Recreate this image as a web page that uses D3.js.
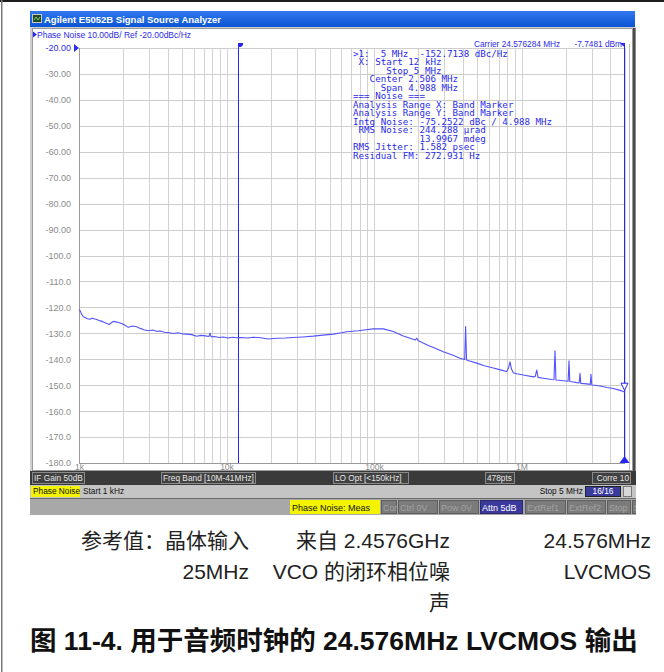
<!DOCTYPE html>
<html>
<head>
<meta charset="UTF-8">
<title>24.576MHz LVCMOS phase noise</title>
<script src="https://d3js.org/d3.v7.min.js"></script>
<style>
    body {
        margin: 0;
        background: #fff;
    }
    svg {
        display: block;
        font-family: "Liberation Sans", Arial, sans-serif;
    }
    .ui { font-size: 8.5px; }
    .bar { font-size: 8.3px; }
    .bar3 { font-size: 9px; }
    .mono {
        font-family: "DejaVu Sans Mono", monospace;
        font-size: 9.2px;
        fill: #2b2bea;
    }
    .cn {
        font-family: "Liberation Sans", "Noto Sans CJK SC", sans-serif;
        font-size: 21px;
        fill: #222;
    }
    .cap {
        font-family: "Liberation Sans", "Noto Sans CJK SC", sans-serif;
        font-size: 26.5px;
        font-weight: bold;
        fill: #111;
    }
</style>
</head>
<body>
<svg id="main" width="664" height="672"></svg>
<script>
    var offsetHz = [
        1000, 1016, 1040, 1069, 1100, 1140, 1187, 1230, 1280, 1318,
        1370, 1420, 1461, 1530, 1605, 1650, 1708, 1780, 1850, 1948,
        2050, 2159, 2300, 2462, 2600, 2750, 2950, 3150, 3350, 3541,
        3800, 4100, 4359, 4700, 5000, 5373, 5800, 6281, 6700, 7200,
        7600, 7730, 7850, 8300, 8900, 9513, 10200, 11000, 11730, 12600,
        13800, 15190, 17000, 19200, 22000, 25000, 28380, 33000, 38770, 45000,
        52990, 60000, 65300, 72000, 78260, 88000, 98900, 115600, 135100, 158000,
        180000, 190000, 195000, 200000, 227800, 260000, 295000, 340000, 383000, 412000,
        418000, 424000, 440000, 497000, 560000, 644000, 720000, 794000, 815000, 836000,
        855000, 880000, 928000, 1050000, 1202000, 1240000, 1268000, 1295000, 1400000, 1602000,
        1660000, 1687000, 1712000, 1800000, 1920000, 2070000, 2099000, 2125000, 2250000, 2367000,
        2460000, 2493000, 2525000, 2650000, 2767000, 2925000, 2960000, 2995000, 3150000, 3406000,
        3800000, 4193000, 4600000, 4900000, 5000000
    ];
    var noiseDb = [
        -121.0, -121.2, -122.6, -123.6, -123.9, -124.4, -124.6, -124.2, -124.5, -124.7,
        -125.1, -125.3, -125.6, -126.1, -126.6, -126.0, -125.4, -125.6, -125.8, -126.2,
        -126.9, -127.7, -127.2, -127.5, -128.1, -128.6, -129.0, -128.7, -129.2, -129.1,
        -129.6, -129.8, -130.1, -129.8, -130.2, -130.3, -130.5, -131.1, -130.8, -131.0,
        -131.2, -129.9, -131.3, -131.2, -131.6, -131.4, -131.8, -131.5, -131.7, -131.6,
        -131.8, -131.5, -131.7, -132.2, -131.9, -131.8, -131.6, -131.4, -131.1, -130.7,
        -130.3, -129.8, -129.4, -129.2, -129.0, -128.6, -128.3, -128.3, -129.3, -131.0,
        -132.1, -132.6, -131.9, -132.9, -134.4, -135.8, -137.1, -138.4, -139.6, -140.1,
        -127.4, -140.3, -140.6, -141.5, -142.5, -143.4, -144.1, -144.7, -143.5, -141.0,
        -143.8, -145.2, -145.6, -146.2, -146.8, -146.6, -144.2, -147.0, -147.3, -147.8,
        -147.9, -136.7, -148.0, -148.1, -148.3, -148.5, -140.6, -148.6, -148.8, -149.0,
        -149.1, -145.4, -149.3, -149.4, -149.5, -149.7, -145.8, -149.9, -150.0, -150.3,
        -150.9, -151.3, -151.9, -152.4, -152.7
    ];

    var yTicks = [-20, -30, -40, -50, -60, -70, -80, -90, -100, -110, -120, -130, -140, -150, -160, -170, -180];
    var yTickLabels = ["-20.00", "-30.00", "-40.00", "-50.00", "-60.00", "-70.00", "-80.00", "-90.00",
        "-100.0", "-110.0", "-120.0", "-130.0", "-140.0", "-150.0", "-160.0", "-170.0", "-180.0"];
    var xTickValues = [1e3, 1e4, 1e5, 1e6];
    var xTickLabels = ["1k", "10k", "100k", "1M"];
    var bandStart = 12e3;
    var bandStop = 5e6;

    var markerText = [
        ">1:  5 MHz  -152.7138 dBc/Hz",
        " X: Start 12 kHz",
        "      Stop 5 MHz",
        "   Center 2.506 MHz",
        "     Span 4.988 MHz",
        "=== Noise ===",
        "Analysis Range X: Band Marker",
        "Analysis Range Y: Band Marker",
        "Intg Noise: -75.2522 dBc / 4.988 MHz",
        " RMS Noise: 244.288 \u00b5rad",
        "            13.9967 mdeg",
        "RMS Jitter: 1.582 psec",
        "Residual FM: 272.931 Hz"
    ];

    var noteCols = [
        ["参考值：晶体输入", "25MHz"],
        ["来自 2.4576GHz", "VCO 的闭环相位噪", "声"],
        ["24.576MHz", "LVCMOS"]
    ];
    var caption = "图 11-4. 用于音频时钟的 24.576MHz LVCMOS 输出";

    var svg = d3.select("#main");
    var nb = function(s) { return s.replace(/ /g, "\u00a0"); };

    // page frame
    svg.append("rect").attr("x", 0).attr("y", 0).attr("width", 664).attr("height", 2).attr("fill", "#1e1e1e");
    svg.append("rect").attr("x", 1).attr("y", 0).attr("width", 1.5).attr("height", 672).attr("fill", "#7a7a7a");

    // analyzer window
    var grad = svg.append("defs").append("linearGradient").attr("id", "tb")
        .attr("x1", 0).attr("y1", 0).attr("x2", 0).attr("y2", 1);
    grad.append("stop").attr("offset", 0).attr("stop-color", "#3178ee");
    grad.append("stop").attr("offset", 1).attr("stop-color", "#0b55d4");

    svg.append("rect").attr("x", 30).attr("y", 27).attr("width", 606).attr("height", 488).attr("fill", "#cfcfcf");
    svg.append("rect").attr("x", 30).attr("y", 11).attr("width", 605).attr("height", 16).attr("fill", "url(#tb)");
    svg.append("rect").attr("x", 32.5).attr("y", 14.5).attr("width", 9).attr("height", 8)
        .attr("fill", "#1f4a22").attr("stroke", "#c8c8c8").attr("stroke-width", 1);
    svg.append("path").attr("d", "M34,20 L36,17 L38,20 L40,17").attr("fill", "none")
        .attr("stroke", "#9ef09e").attr("stroke-width", 0.8);
    svg.append("text").attr("x", 44).attr("y", 23).attr("fill", "#fff")
        .attr("font-weight", "bold").attr("font-size", "9.5px")
        .text("Agilent E5052B Signal Source Analyzer");

    svg.append("rect").attr("x", 32.5).attr("y", 28.5).attr("width", 600).attr("height", 442)
        .attr("fill", "#fff").attr("stroke", "#9a9a9a");
    svg.append("rect").attr("x", 633).attr("y", 28).attr("width", 2.5).attr("height", 443).attr("fill", "#4a4a4a");

    // scales
    var x = d3.scaleLog().domain([1e3, 5e6]).range([79, 624.6]);
    var y = d3.scaleLinear().domain([-20, -180]).range([48, 463]);

    var plot = svg.append("g");

    // grid
    plot.selectAll(".vg").data(x.ticks()).enter().append("line")
        .attr("x1", d => Math.round(x(d)) + 0.5).attr("x2", d => Math.round(x(d)) + 0.5)
        .attr("y1", 48).attr("y2", 463)
        .attr("stroke", "#d2d2d2").attr("stroke-width", 1);
    plot.selectAll(".hg").data(yTicks).enter().append("line")
        .attr("x1", 79).attr("x2", 625)
        .attr("y1", d => Math.round(y(d)) + 0.5).attr("y2", d => Math.round(y(d)) + 0.5)
        .attr("stroke", "#cdcdcd").attr("stroke-width", 1);
    plot.append("line").attr("x1", 79.5).attr("x2", 79.5).attr("y1", 48).attr("y2", 463.5)
        .attr("stroke", "#9a9a9a");
    plot.append("line").attr("x1", 79).attr("x2", 625).attr("y1", 463.5).attr("y2", 463.5)
        .attr("stroke", "#9a9a9a");
    plot.append("line").attr("x1", 629.5).attr("x2", 629.5).attr("y1", 44).attr("y2", 470)
        .attr("stroke", "#bdbdbd");

    // y axis labels
    var yAxis = d3.axisLeft(y).tickValues(yTicks)
        .tickFormat((d, i) => yTickLabels[i]).tickSize(0).tickPadding(0);
    var yg = plot.append("g").attr("transform", "translate(71,0)").call(yAxis);
    yg.select(".domain").remove();
    yg.selectAll("text").attr("font-family", "Liberation Sans, Arial, sans-serif")
        .attr("font-size", "9px").attr("fill", (d, i) => i == 0 ? "#2b2bea" : "#8c8c8c");
    plot.append("path").attr("d", "M74,44 L79,48 L74,52 Z").attr("fill", "#2b2bea");

    // x axis labels
    var xAxis = d3.axisBottom(x).tickValues(xTickValues)
        .tickFormat((d, i) => xTickLabels[i]).tickSize(0).tickPadding(0);
    var xg = plot.append("g").attr("transform", "translate(0,464)").call(xAxis);
    xg.select(".domain").remove();
    xg.selectAll("text").attr("font-family", "Liberation Sans, Arial, sans-serif")
        .attr("font-size", "8.5px").attr("fill", "#8c8c8c");

    // header texts
    svg.append("path").attr("d", "M33,31.5 L37,34.5 L33,37.5 Z").attr("fill", "#2b2bea");
    svg.append("text").attr("class", "ui").attr("x", 37).attr("y", 38).attr("fill", "#2b2bea")
        .text("Phase Noise 10.00dB/ Ref -20.00dBc/Hz");
    svg.append("text").attr("x", 474).attr("y", 47).attr("fill", "#2b2bea")
        .style("font-size", "8.3px").text("Carrier 24.576284 MHz");
    svg.append("text").attr("x", 622).attr("y", 47).attr("fill", "#2b2bea")
        .style("font-size", "8.3px").attr("text-anchor", "end").text("-7.7481 dBm");

    // marker readout
    svg.append("g").selectAll("text").data(markerText).enter().append("text")
        .attr("class", "mono").attr("x", 353).attr("y", (d, i) => 56.5 + i * 8.53)
        .text(d => nb(d));

    // band markers
    var bx = Math.round(x(bandStart)) + 0.5;
    var ex = Math.round(x(bandStop)) - 0.5;
    plot.append("line").attr("x1", bx).attr("x2", bx).attr("y1", 44).attr("y2", 463)
        .attr("stroke", "#2626f0").attr("stroke-width", 1);
    plot.append("path").attr("d", "M" + (bx - 0.5) + ",43 h5 v2 l-2,2 h-3 Z").attr("fill", "#2626f0");
    plot.append("line").attr("x1", ex).attr("x2", ex).attr("y1", 43).attr("y2", 463)
        .attr("stroke", "#2626f0").attr("stroke-width", 1);
    plot.append("path").attr("d", "M" + (ex - 5) + ",43 h5 v4 Z").attr("fill", "#2626f0");
    plot.append("path").attr("d", "M" + (ex - 5) + ",463 L" + ex + ",456 L" + (ex + 5) + ",463 Z")
        .attr("fill", "#2626f0");

    // trace
    var pts = d3.zip(offsetHz, noiseDb);
    var line = d3.line().x(d => x(d[0])).y(d => y(d[1]));
    plot.append("path").datum(pts).attr("d", line)
        .attr("fill", "none").attr("stroke", "#5252ff").attr("stroke-width", 1.1)
        .attr("stroke-linejoin", "round");

    // marker 1 at trace end
    var my = y(noiseDb[noiseDb.length - 1]);
    plot.append("path").attr("d", "M" + (ex - 3.5) + "," + (my - 9) + " h7 l-3.5,7 Z")
        .attr("fill", "#fff").attr("stroke", "#2626f0").attr("stroke-width", 1);

    // status rows
    var bars = svg.append("g").attr("class", "bar");
    var row3 = svg.append("g").attr("class", "bar3");
    var boxText = function(g, x0, x1, y0, h, t, fill, stroke, color, anchor) {
        g.append("rect").attr("x", x0 + 0.5).attr("y", y0 + 0.5).attr("width", x1 - x0 - 1).attr("height", h - 1)
            .attr("fill", fill).attr("stroke", stroke);
        var tx = anchor == "end" ? x1 - 2 : anchor == "middle" ? (x0 + x1) / 2 : x0 + 2;
        g.append("text").attr("x", tx).attr("y", y0 + h - 3).attr("text-anchor", anchor || "start")
            .attr("fill", color).text(t);
    };

    bars.append("rect").attr("x", 30).attr("y", 471).attr("width", 606).attr("height", 14).attr("fill", "#3a3a3a");
    boxText(bars, 32, 85, 472, 12, "IF Gain 50dB", "#414141", "#8a8a8a", "#e4e4e4");
    boxText(bars, 161, 256, 472, 12, "Freq Band [10M-41MHz]", "#414141", "#8a8a8a", "#e4e4e4");
    boxText(bars, 333, 409, 472, 12, "LO Opt [<150kHz]", "#414141", "#8a8a8a", "#e4e4e4");
    boxText(bars, 485, 515, 472, 12, "478pts", "#414141", "#8a8a8a", "#e4e4e4");
    boxText(bars, 592, 631, 472, 12, "Corre 10", "#414141", "#8a8a8a", "#e4e4e4", "end");

    bars.append("rect").attr("x", 30).attr("y", 485).attr("width", 606).attr("height", 13).attr("fill", "#c4c4c4");
    boxText(bars, 31, 80, 486, 11, "Phase Noise", "#f4f400", "#f4f400", "#111");
    bars.append("text").attr("x", 83).attr("y", 494).attr("fill", "#111").text("Start 1 kHz");
    bars.append("text").attr("x", 583).attr("y", 494).attr("fill", "#111").attr("text-anchor", "end").text("Stop 5 MHz");
    boxText(bars, 585, 621, 486, 11, "16/16", "#3a3a9c", "#222", "#fff", "middle");
    bars.append("rect").attr("x", 623.5).attr("y", 486.5).attr("width", 8).attr("height", 10)
        .attr("fill", "#d8d8d8").attr("stroke", "#7a7a7a");
    bars.append("rect").attr("x", 30).attr("y", 498).attr("width", 606).attr("height", 1).attr("fill", "#6a6a6a");

    row3.append("rect").attr("x", 30).attr("y", 499).attr("width", 606).attr("height", 16).attr("fill", "#a8a8a8");
    boxText(row3, 290, 380, 500, 14, "Phase Noise: Meas", "#f4f400", "#f4f400", "#111");
    boxText(row3, 381, 397, 500, 14, "Cor", "#7b7b7b", "#5e5e5e", "#a3a3a3");
    boxText(row3, 398, 438, 500, 14, "Ctrl  0V", "#7b7b7b", "#5e5e5e", "#a3a3a3");
    boxText(row3, 439, 479, 500, 14, "Pow  0V", "#7b7b7b", "#5e5e5e", "#a3a3a3");
    boxText(row3, 480, 523, 500, 14, "Attn 5dB", "#3a3a9c", "#2a2a6a", "#fff");
    boxText(row3, 525, 566, 500, 14, "ExtRef1", "#7b7b7b", "#5e5e5e", "#a3a3a3");
    boxText(row3, 567, 606, 500, 14, "ExtRef2", "#7b7b7b", "#5e5e5e", "#a3a3a3");
    boxText(row3, 607, 631, 500, 14, "Stop", "#7b7b7b", "#5e5e5e", "#a3a3a3");
    boxText(row3, 632, 640, 500, 14, "S", "#7b7b7b", "#5e5e5e", "#a3a3a3");
    svg.append("rect").attr("x", 636).attr("y", 499).attr("width", 28).attr("height", 17).attr("fill", "#fff");

    // notes below the screen shot
    var colRight = [249, 450, 651];
    var rowBase = [548, 579, 610];
    noteCols.forEach(function(col, c) {
        svg.append("g").selectAll("text").data(col).enter().append("text")
            .attr("class", "cn").attr("x", colRight[c]).attr("y", (d, i) => rowBase[i])
            .attr("text-anchor", "end").text(d => d);
    });
    svg.append("text").attr("class", "cap").attr("x", 30).attr("y", 650).text(caption);
</script>
</body>
</html>
